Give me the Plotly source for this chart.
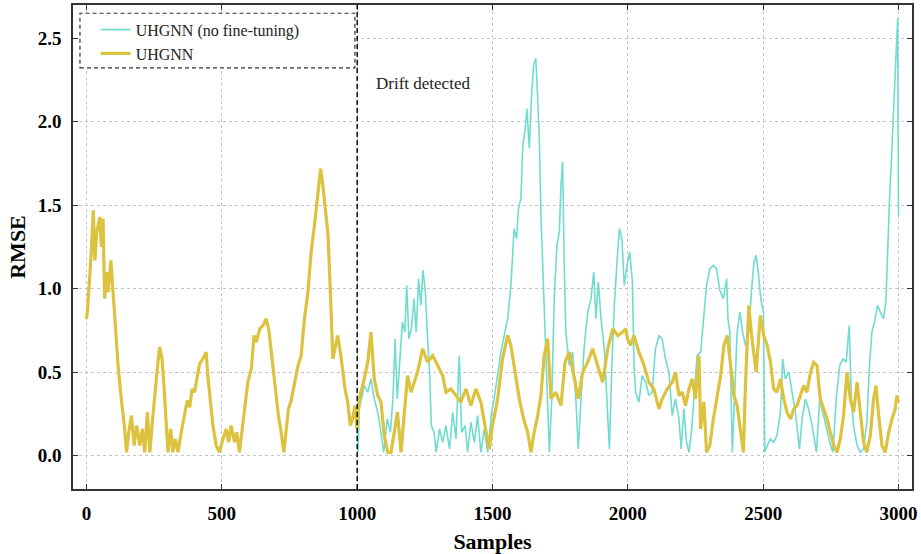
import plotly.graph_objects as go

# ---------------- data ----------------
yellow_samples = [0, 4, 18, 25, 31, 37, 49, 55, 61, 67, 74, 80, 90, 98, 104, 110, 117, 129, 139, 148,
                  156, 166, 176, 185, 197, 206, 215, 225, 234, 242, 252, 262, 270, 279, 286, 295, 301,
                  311, 319, 328, 338, 350, 362, 372, 381, 390, 399, 409, 418, 430, 442, 448, 458, 467,
                  479, 491, 504, 516, 525, 534, 547, 555, 565, 574, 584, 596, 609, 619, 627, 640, 652,
                  664, 673, 683, 692, 701, 709, 719, 729, 737, 746, 756, 766, 780, 793, 805, 818, 830,
                  842, 855, 865, 873, 882, 892, 901, 910, 919, 928, 938, 947, 955, 965, 975, 983, 992,
                  999, 1008, 1026, 1039, 1051, 1063, 1076, 1088, 1100, 1113, 1125, 1137, 1149, 1162,
                  1174, 1186, 1199, 1211, 1223, 1242, 1260, 1279, 1297, 1316, 1328, 1346, 1365, 1383,
                  1402, 1420, 1439, 1457, 1472, 1488, 1500, 1519, 1537, 1556, 1568, 1580, 1599, 1615,
                  1630, 1642, 1654, 1667, 1679, 1691, 1704, 1716, 1734, 1753, 1768, 1784, 1802, 1817,
                  1833, 1852, 1870, 1889, 1907, 1926, 1944, 1963, 1981, 1992, 1999, 2010, 2023, 2041,
                  2060, 2078, 2096, 2115, 2127, 2146, 2164, 2176, 2189, 2201, 2213, 2226, 2238, 2250,
                  2263, 2269, 2281, 2291, 2303, 2316, 2331, 2343, 2355, 2367, 2380, 2392, 2404, 2417,
                  2427, 2435, 2447, 2456, 2466, 2474, 2484, 2490, 2502, 2515, 2527, 2539, 2551, 2564,
                  2576, 2588, 2601, 2613, 2625, 2637, 2650, 2662, 2675, 2687, 2699, 2711, 2724, 2736,
                  2748, 2761, 2773, 2785, 2797, 2810, 2822, 2834, 2847, 2859, 2871, 2883, 2896, 2908,
                  2917, 2927, 2939, 2951, 2964, 2976, 2988, 2994, 3000]
yellow_rmse = [0.82, 0.88, 1.23, 1.47, 1.17, 1.33, 1.43, 1.25, 1.42, 0.94, 1.10, 0.98, 1.17, 0.98, 0.77,
               0.63, 0.53, 0.33, 0.19, 0.02, 0.14, 0.24, 0.06, 0.18, 0.06, 0.16, 0.02, 0.26, 0.02, 0.18,
               0.38, 0.53, 0.65, 0.58, 0.42, 0.22, 0.02, 0.16, 0.02, 0.10, 0.02, 0.14, 0.24, 0.33, 0.29,
               0.40, 0.38, 0.48, 0.55, 0.58, 0.62, 0.48, 0.33, 0.18, 0.06, 0.02, 0.10, 0.16, 0.08, 0.18,
               0.08, 0.14, 0.02, 0.14, 0.24, 0.44, 0.52, 0.72, 0.68, 0.76, 0.78, 0.82, 0.76, 0.62, 0.46,
               0.33, 0.24, 0.14, 0.02, 0.14, 0.28, 0.33, 0.42, 0.53, 0.60, 0.82, 0.98, 1.22, 1.38, 1.58,
               1.72, 1.62, 1.49, 1.33, 0.98, 0.58, 0.65, 0.72, 0.62, 0.50, 0.40, 0.32, 0.18, 0.22, 0.30,
               0.16, 0.34, 0.46, 0.56, 0.74, 0.46, 0.36, 0.32, 0.12, 0.02, 0.02, 0.14, 0.26, 0.02, 0.28,
               0.48, 0.38, 0.44, 0.50, 0.64, 0.56, 0.60, 0.54, 0.48, 0.38, 0.40, 0.36, 0.32, 0.40, 0.30,
               0.40, 0.32, 0.18, 0.04, 0.18, 0.34, 0.58, 0.72, 0.66, 0.54, 0.34, 0.22, 0.14, 0.02, 0.14,
               0.24, 0.36, 0.60, 0.70, 0.34, 0.38, 0.30, 0.56, 0.62, 0.48, 0.34, 0.50, 0.56, 0.64, 0.54,
               0.44, 0.64, 0.76, 0.72, 0.74, 0.76, 0.70, 0.66, 0.72, 0.62, 0.54, 0.44, 0.40, 0.28, 0.34,
               0.40, 0.44, 0.50, 0.36, 0.38, 0.30, 0.40, 0.46, 0.34, 0.60, 0.16, 0.32, 0.02, 0.06, 0.22,
               0.36, 0.48, 0.66, 0.72, 0.54, 0.36, 0.30, 0.14, 0.02, 0.44, 0.90, 0.74, 0.62, 0.50, 0.72,
               0.84, 0.72, 0.66, 0.56, 0.40, 0.38, 0.46, 0.34, 0.26, 0.22, 0.28, 0.30, 0.36, 0.42, 0.38,
               0.50, 0.56, 0.54, 0.34, 0.28, 0.22, 0.14, 0.06, 0.02, 0.10, 0.24, 0.50, 0.34, 0.26, 0.44,
               0.26, 0.08, 0.02, 0.12, 0.34, 0.42, 0.24, 0.06, 0.02, 0.14, 0.22, 0.28, 0.36, 0.32]

cyan_samples = [1000, 1003, 1008, 1026, 1039, 1051, 1063, 1076, 1086, 1098, 1111, 1123, 1132, 1140, 1148,
                1157, 1167, 1176, 1183, 1191, 1200, 1210, 1218, 1227, 1235, 1243, 1252, 1259, 1268, 1274,
                1284, 1292, 1304, 1316, 1328, 1341, 1353, 1365, 1377, 1386, 1399, 1408, 1420, 1433, 1445,
                1457, 1470, 1482, 1497, 1506, 1519, 1531, 1546, 1556, 1568, 1574, 1580, 1589, 1596, 1605,
                1612, 1620, 1627, 1636, 1645, 1652, 1660, 1667, 1673, 1679, 1685, 1694, 1702, 1710, 1719,
                1728, 1738, 1747, 1753, 1759, 1765, 1771, 1784, 1796, 1808, 1817, 1827, 1839, 1852, 1864,
                1874, 1882, 1891, 1901, 1913, 1923, 1932, 1941, 1950, 1960, 1969, 1978, 1987, 1997, 2007,
                2017, 2023, 2029, 2041, 2053, 2066, 2078, 2090, 2102, 2115, 2127, 2139, 2152, 2164, 2176,
                2189, 2197, 2207, 2217, 2226, 2235, 2244, 2256, 2269, 2281, 2291, 2303, 2316, 2328, 2340,
                2353, 2365, 2370, 2377, 2386, 2395, 2404, 2414, 2424, 2435, 2447, 2457, 2466, 2474, 2482,
                2491, 2501, 2506, 2515, 2527, 2539, 2551, 2564, 2572, 2582, 2595, 2607, 2619, 2634, 2644,
                2656, 2668, 2681, 2697, 2709, 2721, 2733, 2746, 2758, 2770, 2783, 2795, 2807, 2818, 2826,
                2834, 2847, 2859, 2871, 2883, 2893, 2902, 2914, 2923, 2933, 2945, 2954, 2961, 2967, 2973,
                2980, 2986, 2992, 2997, 3000]
cyan_rmse = [0.22, 0.02, 0.28, 0.42, 0.38, 0.46, 0.34, 0.26, 0.16, 0.02, 0.22, 0.14, 0.34, 0.70, 0.34,
             0.54, 0.80, 0.74, 1.02, 0.70, 0.76, 0.94, 0.74, 1.06, 0.90, 1.11, 0.98, 0.74, 0.48, 0.18,
             0.14, 0.02, 0.16, 0.08, 0.18, 0.04, 0.26, 0.10, 0.60, 0.14, 0.18, 0.02, 0.20, 0.08, 0.24,
             0.02, 0.16, 0.02, 0.26, 0.34, 0.48, 0.62, 0.74, 0.82, 1.02, 1.24, 1.36, 1.30, 1.48, 1.54,
             1.86, 1.94, 2.08, 1.84, 2.18, 2.34, 2.38, 2.14, 1.90, 1.44, 1.14, 0.74, 0.34, 0.02, 0.34,
             0.94, 1.26, 1.34, 1.62, 1.76, 1.14, 0.74, 0.54, 0.62, 0.34, 0.04, 0.34, 0.66, 0.86, 0.94,
             1.10, 0.82, 1.04, 0.82, 0.64, 0.34, 0.04, 0.54, 0.90, 1.16, 1.36, 1.30, 1.02, 1.14, 1.22,
             1.04, 0.54, 0.38, 0.32, 0.48, 0.44, 0.36, 0.38, 0.64, 0.72, 0.70, 0.58, 0.50, 0.24, 0.34,
             0.22, 0.04, 0.28, 0.08, 0.02, 0.14, 0.34, 0.60, 0.62, 0.82, 1.02, 1.12, 1.14, 1.12, 0.99,
             0.94, 1.06, 0.82, 0.74, 0.02, 0.44, 0.74, 0.86, 0.74, 0.66, 0.74, 0.99, 1.16, 1.20, 1.10,
             0.94, 0.86, 0.02, 0.06, 0.10, 0.08, 0.12, 0.26, 0.58, 0.46, 0.50, 0.38, 0.26, 0.04, 0.22,
             0.34, 0.28, 0.18, 0.02, 0.34, 0.26, 0.18, 0.08, 0.02, 0.34, 0.54, 0.58, 0.56, 0.78, 0.34,
             0.18, 0.06, 0.02, 0.04, 0.20, 0.54, 0.74, 0.82, 0.90, 0.86, 0.82, 0.94, 1.33, 1.54, 1.74,
             2.02, 2.26, 2.42, 2.62, 1.44]

x_ticks = [0, 500, 1000, 1500, 2000, 2500, 3000]
y_ticks = [0.0, 0.5, 1.0, 1.5, 2.0, 2.5]
drift_sample = 1000
series_names = ["UHGNN (no fine-tuning)", "UHGNN"]
annotation_text = "Drift detected"

# ---------------- figure ----------------
CYAN = "#6fdccf"
GOLD = "#dcc23e"
SERIF = "Liberation Serif, Times New Roman, serif"

fig = go.Figure()
fig.add_trace(go.Scatter(x=cyan_samples, y=cyan_rmse, mode="lines", name=series_names[0],
                         line=dict(color=CYAN, width=1.6)))
fig.add_trace(go.Scatter(x=yellow_samples, y=yellow_rmse, mode="lines", name=series_names[1],
                         line=dict(color=GOLD, width=3.2)))

# legend frame (dashed, white fill)
fig.add_shape(type="rect", xref="paper", yref="paper", x0=0.0083, x1=0.336, y0=0.870, y1=0.983,
              line=dict(color="#333333", width=1.2, dash="4px,3px"), fillcolor="white", layer="above")
# drift line
fig.add_shape(type="line", xref="x", yref="paper", x0=drift_sample, x1=drift_sample, y0=0, y1=1,
              line=dict(color="black", width=1.4, dash="5px,3px"), layer="above")

fig.add_annotation(x=1062, y=2.23, xref="x", yref="y", text=annotation_text, showarrow=False,
                   xanchor="left", yanchor="middle", font=dict(family=SERIF, size=17, color="#222"))

axis_common = dict(
    showline=True, linecolor="#333333", linewidth=1.5, mirror="allticks",
    ticks="inside", ticklen=5, tickwidth=1.2, tickcolor="#333333",
    showgrid=True, gridcolor="#c4c4c4", gridwidth=1, griddash="dot",
    zeroline=False, automargin=False,
    tickfont=dict(family=SERIF, size=19, color="black", weight="bold"),
)

fig.update_xaxes(range=[-50, 3050], tickvals=x_ticks,
                 title=dict(text="<b>Samples</b>", font=dict(family=SERIF, size=22, color="black"), standoff=12),
                 ticklabelstandoff=6, **axis_common)
fig.update_yaxes(range=[-0.2, 2.7], tickvals=y_ticks, tickformat=".1f",
                 title=dict(text="<b>RMSE</b>", font=dict(family=SERIF, size=22, color="black"), standoff=6),
                 ticklabelstandoff=6, **axis_common)

fig.update_layout(
    width=921, height=554,
    margin=dict(l=73, r=9, t=5, b=65, autoexpand=False),
    paper_bgcolor="white", plot_bgcolor="white",
    showlegend=True,
    legend=dict(x=0.027, y=0.984, xanchor="left", yanchor="top", bgcolor="rgba(0,0,0,0)",
                borderwidth=0, font=dict(family=SERIF, size=16, color="#222"),
                tracegroupgap=0, itemwidth=30),
)

fig.write_html("out.html", config={"displayModeBar": False},
               post_script="document.body.style.margin='0';document.body.style.overflow='hidden';")
